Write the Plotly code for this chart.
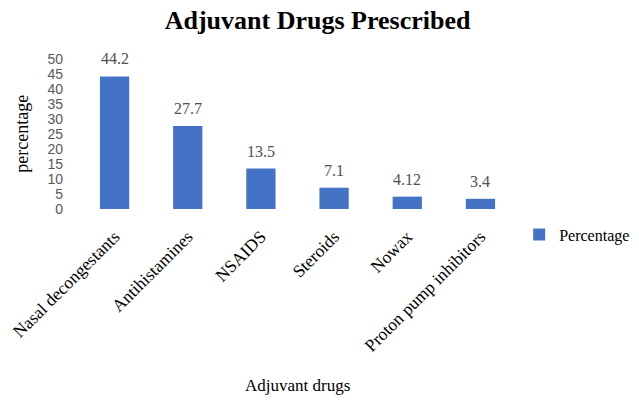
import plotly.graph_objects as go

categories = ["Nasal decongestants", "Antihistamines", "NSAIDS", "Steroids", "Nowax", "Proton pump inhibitors"]
values = [44.2, 27.7, 13.5, 7.1, 4.12, 3.4]
value_labels = ["44.2", "27.7", "13.5", "7.1", "4.12", "3.4"]
y_ticks = [0, 5, 10, 15, 20, 25, 30, 35, 40, 45, 50]

serif = "Liberation Serif"
sans = "Liberation Sans"

fig = go.Figure()
fig.add_trace(go.Bar(
    x=categories, y=values, name="Percentage",
    marker=dict(color="#4472C4", line=dict(width=0)),
))

for c, v, t in zip(categories, values, value_labels):
    fig.add_annotation(x=c, y=v, text=t, showarrow=False, yanchor="bottom", yshift=7,
                       font=dict(family=serif, size=16, color="#505050"))

fig.add_annotation(text="Adjuvant drugs", xref="paper", yref="paper", x=0.50, y=-1.18,
                   xanchor="center", yanchor="middle", showarrow=False,
                   font=dict(family=serif, size=17, color="#000000"))
fig.add_annotation(text="percentage", xref="paper", yref="paper", x=-0.128, y=0.5,
                   xanchor="center", yanchor="middle", showarrow=False, textangle=-90,
                   font=dict(family=serif, size=18, color="#000000"))

fig.update_layout(
    width=639, height=403,
    margin=dict(l=78, r=122, t=59, b=194, autoexpand=False),
    paper_bgcolor="white", plot_bgcolor="white",
    bargap=0.60,
    title=dict(text="<b>Adjuvant Drugs Prescribed</b>", x=0.497, xref="container", xanchor="center",
               y=0.95, yanchor="middle",
               font=dict(family=serif, size=26, color="#000000")),
    showlegend=True,
    legend=dict(x=1.005, y=-0.17, xanchor="left", yanchor="middle",
                font=dict(family=serif, size=16, color="#000000"),
                itemwidth=30, bgcolor="rgba(0,0,0,0)"),
    xaxis=dict(tickangle=-45, showline=False, ticks="", showgrid=False, ticklabelstandoff=13,
               tickfont=dict(family=serif, size=17.5, color="#000000")),
    yaxis=dict(range=[0, 50], tickvals=y_ticks, showgrid=False, showline=False, ticks="",
               zeroline=False, ticklabelstandoff=14,
               tickfont=dict(family=sans, size=14, color="#595959")),
)

fig.write_html("out.html")
